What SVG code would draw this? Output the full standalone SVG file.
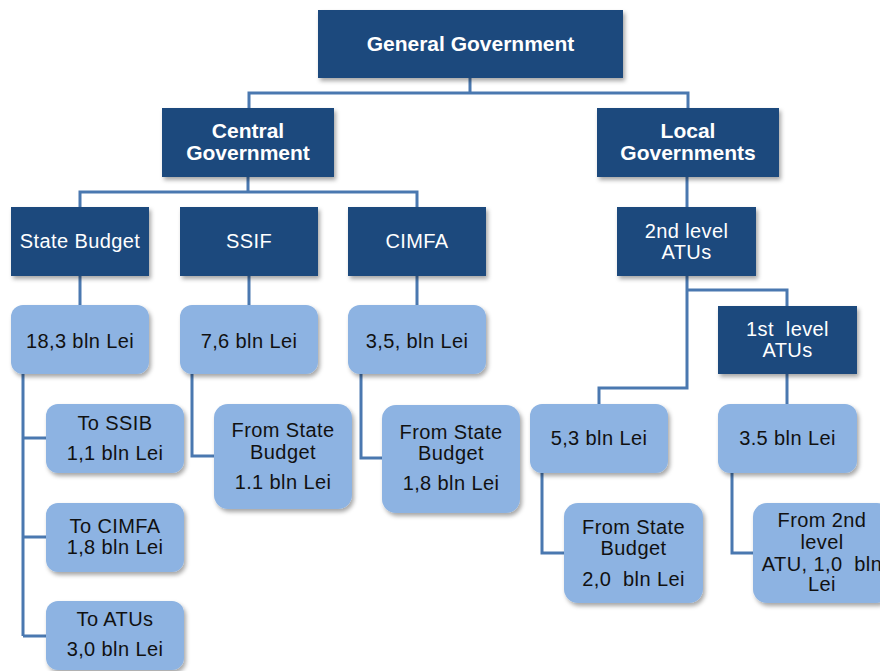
<svg xmlns="http://www.w3.org/2000/svg" width="880" height="671" viewBox="0 0 880 671">
<defs>
<filter id="sh" x="-10%" y="-10%" width="130%" height="140%">
<feDropShadow dx="2" dy="3" stdDeviation="2" flood-color="#000" flood-opacity="0.35"/>
</filter>
</defs>
<style>
.dk{fill:#1F497D;filter:url(#sh)}
.lt{fill:#8DB3E2;filter:url(#sh)}
.conn{fill:none;stroke:#4A78B0;stroke-width:3}
text{font-family:"Liberation Sans",Arial,sans-serif;font-size:20px;letter-spacing:0.4px;text-anchor:middle;white-space:pre}
.w{fill:#ffffff}
.b{font-weight:bold;font-size:21px;letter-spacing:0}
.k{fill:#111111}
</style>
<rect width="880" height="671" fill="#ffffff"/>
<g id="connectors" class="conn">
<path d="M470,78 V93 M249,108 V93 H688 V108"/>
<path d="M248,177 V192 M80,207 V192 H417 V207"/>
<path d="M80,276 V305 M249,276 V305 M417,276 V305"/>
<path d="M23,374 V636 M23,438 H46 M23,537 H46 M23,636 H46"/>
<path d="M192,374 V456 H214"/>
<path d="M361,374 V458 H382"/>
<path d="M687,177 V207"/>
<path d="M687,276 V388 H599 V404"/>
<path d="M687,290 H787 V306"/>
<path d="M787,374 V404"/>
<path d="M542,473 V553 H564"/>
<path d="M732,473 V553 H753"/>
</g>
<g id="general-government"><rect class="dk" x="318" y="10" width="305" height="68"/><text class="w b" x="470.5" y="51">General Government</text></g>
<g id="central-government"><rect class="dk" x="162" y="108" width="172" height="69"/><text class="w b" x="248" y="138">Central</text><text class="w b" x="248" y="160">Government</text></g>
<g id="local-governments"><rect class="dk" x="597" y="108" width="182" height="69"/><text class="w b" x="688" y="138">Local</text><text class="w b" x="688" y="160">Governments</text></g>
<g id="state-budget"><rect class="dk" x="11" y="207" width="138" height="69"/><text class="w" x="80" y="248">State Budget</text></g>
<g id="ssif"><rect class="dk" x="180" y="207" width="138" height="69"/><text class="w" x="249" y="248">SSIF</text></g>
<g id="cimfa"><rect class="dk" x="348" y="207" width="138" height="69"/><text class="w" x="417" y="248">CIMFA</text></g>
<g id="sb-value"><rect class="lt" x="11" y="305" width="138" height="69" rx="12"/><text class="k" x="80" y="348">18,3 bln Lei</text></g>
<g id="ssif-value"><rect class="lt" x="180" y="305" width="138" height="69" rx="12"/><text class="k" x="249" y="348">7,6 bln Lei</text></g>
<g id="cimfa-value"><rect class="lt" x="348" y="305" width="138" height="69" rx="12"/><text class="k" x="417" y="348">3,5, bln Lei</text></g>
<g id="to-ssib"><rect class="lt" x="46" y="404" width="138" height="69" rx="12"/><text class="k" x="115" y="430">To SSIB</text><text class="k" x="115" y="460">1,1 bln Lei</text></g>
<g id="to-cimfa"><rect class="lt" x="46" y="503" width="138" height="69" rx="12"/><text class="k" x="115" y="533">To CIMFA</text><text class="k" x="115" y="554">1,8 bln Lei</text></g>
<g id="to-atus"><rect class="lt" x="46" y="601" width="138" height="69" rx="12"/><text class="k" x="115" y="626">To ATUs</text><text class="k" x="115" y="656">3,0 bln Lei</text></g>
<g id="ssif-from-sb"><rect class="lt" x="214" y="404" width="138" height="105" rx="14"/><text class="k" x="283" y="437">From State</text><text class="k" x="283" y="459">Budget</text><text class="k" x="283" y="489">1.1 bln Lei</text></g>
<g id="cimfa-from-sb"><rect class="lt" x="382" y="405" width="138" height="108" rx="14"/><text class="k" x="451" y="439">From State</text><text class="k" x="451" y="460">Budget</text><text class="k" x="451" y="490">1,8 bln Lei</text></g>
<g id="atu-2nd"><rect class="dk" x="617" y="207" width="139" height="69"/><text class="w" x="686.5" y="238">2nd level</text><text class="w" x="686.5" y="259">ATUs</text></g>
<g id="atu-1st"><rect class="dk" x="718" y="306" width="139" height="68"/><text class="w" x="787.5" y="336">1st  level</text><text class="w" x="787.5" y="357">ATUs</text></g>
<g id="atu2-value"><rect class="lt" x="530" y="404" width="138" height="69" rx="12"/><text class="k" x="599" y="445">5,3 bln Lei</text></g>
<g id="atu1-value"><rect class="lt" x="718" y="404" width="139" height="69" rx="12"/><text class="k" x="787.5" y="445">3.5 bln Lei</text></g>
<g id="atu2-from-sb"><rect class="lt" x="564" y="503" width="139" height="100" rx="14"/><text class="k" x="633.5" y="534">From State</text><text class="k" x="633.5" y="555">Budget</text><text class="k" x="633.5" y="586">2,0  bln Lei</text></g>
<g id="atu1-from-atu2"><rect class="lt" x="753" y="503" width="138" height="100" rx="14"/><text class="k" x="822" y="527">From 2nd</text><text class="k" x="822" y="549">level</text><text class="k" x="822" y="571">ATU, 1,0  bln</text><text class="k" x="822" y="591">Lei</text></g>
</svg>
